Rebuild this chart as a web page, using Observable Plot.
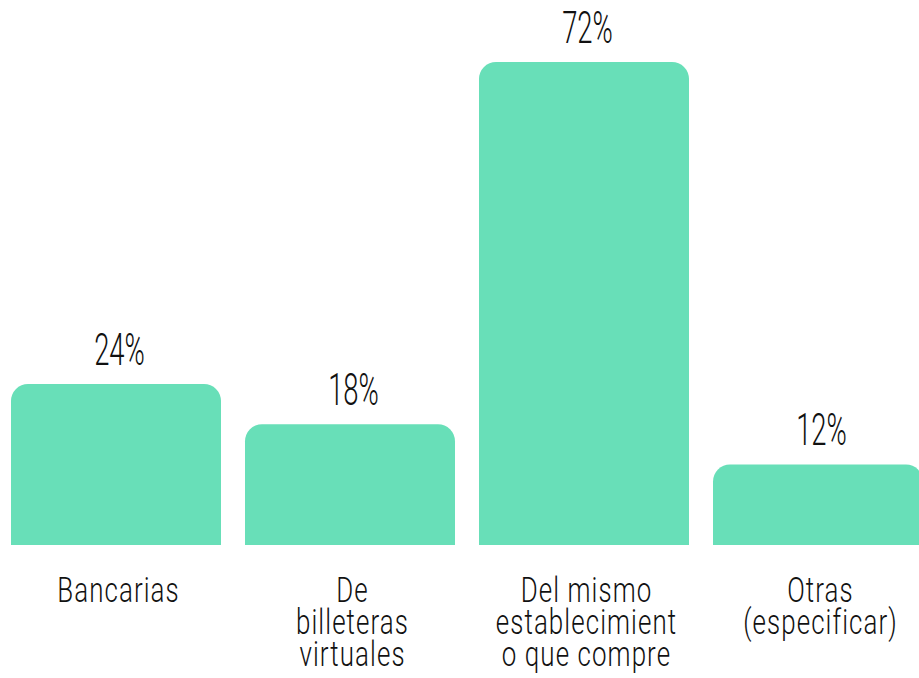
<!DOCTYPE html>
<html>
<head>
<meta charset="utf-8">
<script src="https://cdn.jsdelivr.net/npm/d3@7"></script>
<script src="https://cdn.jsdelivr.net/npm/@observablehq/plot@0.6"></script>
<style>
  html, body { margin: 0; padding: 0; background: #ffffff; }
  #chart svg { display: block; }
</style>
</head>
<body>
<div id="chart"></div>
<script>
const categories = ["Bancarias", "De\nbilleteras\nvirtuales", "Del mismo\nestablecimient\no que compre", "Otras\n(especificar)"];
const values = [24, 18, 72, 12];
const valueLabels = ["24%", "18%", "72%", "12%"];

const data = categories.map((c, i) => ({cat: c, value: values[i], label: valueLabels[i]}));

const BAR_COLOR = "#68dfb8";
const FONT = "Roboto, 'Liberation Sans', sans-serif";

const chart = Plot.plot({
  width: 919,
  height: 678,
  marginLeft: 0,
  marginRight: 0,
  marginTop: 0,
  marginBottom: 133,
  style: {fontFamily: FONT, background: "#ffffff"},
  x: {type: "band", domain: categories, range: [0, 934], paddingInner: 0.1026, paddingOuter: 0.047, axis: null},
  y: {domain: [0, 72], range: [545, 62], axis: null},
  marks: [
    Plot.barY(data, {x: "cat", y: "value", fill: BAR_COLOR, rx: 17, insetBottom: -30, clip: true}),
    Plot.text(data, {x: "cat", y: "value", text: "label", lineAnchor: "bottom", dy: -20, dx: 3,
      fontSize: 43.5, fontWeight: 300, fill: "#111111", className: "val-label"}),
    Plot.text(data, {x: "cat", y: () => 0, text: "cat", lineAnchor: "top", dy: 33, dx: 2,
      lineHeight: 0.9, fontSize: 36, fontWeight: 300, fill: "#111111", className: "cat-label"})
  ]
});

document.getElementById("chart").appendChild(chart);

// narrow the glyphs to mimic the condensed face of the original
function condense(selector, sx) {
  chart.querySelectorAll(selector + " text").forEach(t => {
    const tr = t.getAttribute("transform") || "";
    t.setAttribute("transform", tr + ` scale(${sx},1)`);
  });
}
condense(".val-label", 0.63);
condense(".cat-label", 0.72);
chart.querySelectorAll(".cat-label text").forEach(t => t.setAttribute("letter-spacing", "1.5"));
</script>
</body>
</html>
